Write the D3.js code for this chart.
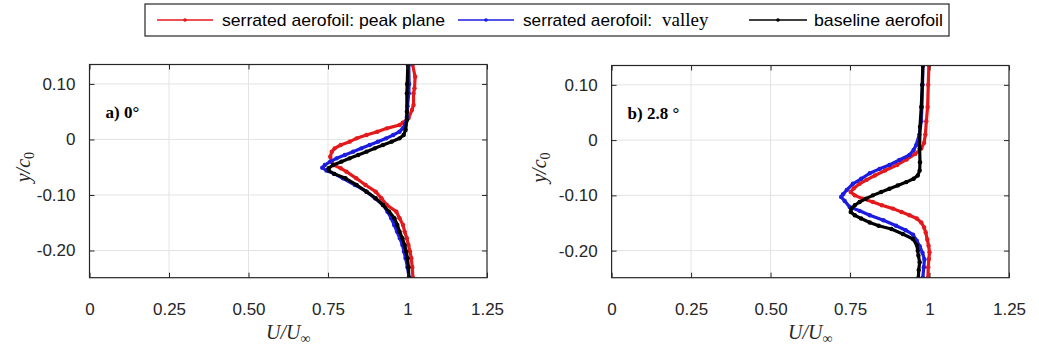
<!DOCTYPE html>
<html><head><meta charset="utf-8">
<script src="https://cdn.jsdelivr.net/npm/d3@7"></script>
<style>body{margin:0;background:#fff} svg{display:block}</style>
</head><body><svg id="c" width="1039" height="350"></svg>
<script>
const xTicks=[0,0.25,0.5,0.75,1,1.25];
const xTickLabels=["0","0.25","0.50","0.75","1","1.25"];
const yTicks=[-0.2,-0.1,0,0.1];
const yTickLabels=["-0.20","-0.10","0","0.10"];
const seriesNames=["serrated aerofoil: peak plane","serrated aerofoil:","baseline aerofoil"];
const seriesColors=["#e3191c","#1c1ce0","#000000"];
const panelLabels=["a) 0°","b) 2.8 °"];

// panel a) 0° : [y/c0, U/Uinf]
const aPeak=[[0.135,1.016],[0.113,1.024],[0.092,1.022],[0.083,1.019],[0.062,1.019],[0.053,1.014],[0.038,1.003],[0.030,0.985],[0.026,0.975],[0.020,0.935],[0.014,0.905],[0.008,0.871],[0.002,0.840],[-0.004,0.818],[-0.010,0.790],[-0.016,0.771],[-0.022,0.762],[-0.031,0.757],[-0.040,0.762],[-0.046,0.768],[-0.052,0.790],[-0.058,0.808],[-0.070,0.839],[-0.082,0.868],[-0.094,0.900],[-0.106,0.918],[-0.118,0.935],[-0.130,0.965],[-0.142,0.975],[-0.154,0.986],[-0.166,0.991],[-0.178,0.998],[-0.190,1.003],[-0.202,1.008],[-0.214,1.012],[-0.230,1.015],[-0.249,1.017]];
const aValley=[[0.135,1.004],[0.100,1.005],[0.083,1.004],[0.060,1.000],[0.040,0.998],[0.029,0.994],[0.020,0.985],[0.014,0.975],[0.008,0.955],[0.002,0.933],[-0.004,0.907],[-0.010,0.881],[-0.016,0.855],[-0.022,0.829],[-0.028,0.803],[-0.034,0.777],[-0.040,0.757],[-0.046,0.740],[-0.051,0.732],[-0.056,0.745],[-0.062,0.770],[-0.070,0.797],[-0.082,0.835],[-0.094,0.871],[-0.106,0.898],[-0.118,0.923],[-0.130,0.937],[-0.142,0.949],[-0.154,0.958],[-0.166,0.967],[-0.178,0.976],[-0.190,0.984],[-0.202,0.989],[-0.214,0.994],[-0.230,1.000],[-0.249,1.005]];
const aBase=[[0.135,1.001],[0.100,0.999],[0.083,0.998],[0.050,0.998],[0.035,0.998],[0.017,0.994],[0.008,0.988],[0.002,0.975],[-0.004,0.950],[-0.010,0.923],[-0.016,0.897],[-0.022,0.871],[-0.028,0.845],[-0.034,0.818],[-0.040,0.792],[-0.046,0.766],[-0.052,0.752],[-0.056,0.752],[-0.062,0.770],[-0.070,0.805],[-0.082,0.840],[-0.094,0.871],[-0.106,0.900],[-0.118,0.923],[-0.130,0.942],[-0.142,0.959],[-0.154,0.968],[-0.166,0.975],[-0.178,0.984],[-0.190,0.991],[-0.202,0.996],[-0.214,1.000],[-0.230,1.003],[-0.249,1.004]];

// panel b) 2.8° : [y/c0, U/Uinf]
const bPeak=[[0.135,0.998],[0.100,0.996],[0.060,0.994],[0.034,0.990],[0.010,0.987],[-0.005,0.983],[-0.015,0.974],[-0.025,0.955],[-0.035,0.928],[-0.045,0.898],[-0.055,0.860],[-0.064,0.828],[-0.072,0.802],[-0.079,0.780],[-0.087,0.762],[-0.094,0.752],[-0.100,0.765],[-0.106,0.790],[-0.112,0.822],[-0.118,0.850],[-0.124,0.885],[-0.130,0.912],[-0.136,0.937],[-0.142,0.960],[-0.149,0.974],[-0.158,0.983],[-0.167,0.988],[-0.180,0.993],[-0.191,0.997],[-0.203,1.000],[-0.215,0.998],[-0.230,0.996],[-0.249,0.995]];
const bValley=[[0.135,0.979],[0.100,0.978],[0.060,0.976],[0.034,0.974],[0.010,0.968],[-0.009,0.958],[-0.018,0.950],[-0.027,0.937],[-0.036,0.905],[-0.045,0.874],[-0.052,0.843],[-0.060,0.812],[-0.070,0.785],[-0.079,0.759],[-0.090,0.740],[-0.098,0.728],[-0.103,0.722],[-0.110,0.733],[-0.121,0.749],[-0.128,0.780],[-0.136,0.812],[-0.145,0.855],[-0.155,0.895],[-0.163,0.925],[-0.171,0.948],[-0.182,0.960],[-0.192,0.969],[-0.204,0.978],[-0.216,0.984],[-0.230,0.982],[-0.249,0.979]];
const bBase=[[0.135,0.979],[0.100,0.977],[0.060,0.974],[0.024,0.970],[-0.015,0.969],[-0.040,0.970],[-0.055,0.969],[-0.064,0.963],[-0.070,0.950],[-0.076,0.927],[-0.082,0.900],[-0.088,0.874],[-0.094,0.848],[-0.100,0.822],[-0.106,0.800],[-0.112,0.780],[-0.118,0.765],[-0.124,0.754],[-0.130,0.752],[-0.136,0.765],[-0.142,0.785],[-0.149,0.812],[-0.155,0.840],[-0.161,0.880],[-0.170,0.916],[-0.179,0.948],[-0.190,0.960],[-0.200,0.963],[-0.209,0.965],[-0.221,0.969],[-0.235,0.966],[-0.249,0.965]];

const svg=d3.select("#c");
const axisCol="#262626", gridCol="#e3e3e3";
const yDomain=[-0.249,0.135], xDomain=[0,1.25];

const panels=[
  {left:89.5,right:487,top:64.5,bottom:277.7,label:panelLabels[0],series:[aPeak,aValley,aBase],ylabX:30},
  {left:611.6,right:1009,top:65.5,bottom:277.7,label:panelLabels[1],series:[bPeak,bValley,bBase],ylabX:546}
];

panels.forEach(p=>{
  const x=d3.scaleLinear().domain(xDomain).range([p.left,p.right]);
  const y=d3.scaleLinear().domain(yDomain).range([p.bottom,p.top]);
  const g=svg.append("g");
  g.append("rect").attr("x",p.left).attr("y",p.top).attr("width",p.right-p.left).attr("height",p.bottom-p.top).attr("fill","#fff");
  // grid
  g.selectAll(".gx").data(xTicks.slice(1,-1)).join("line").attr("x1",d=>x(d)).attr("x2",d=>x(d)).attr("y1",p.top).attr("y2",p.bottom).attr("stroke",gridCol).attr("stroke-width",1);
  g.selectAll(".gy").data(yTicks).join("line").attr("class","gy").attr("y1",d=>y(d)).attr("y2",d=>y(d)).attr("x1",p.left).attr("x2",p.right).attr("stroke",gridCol).attr("stroke-width",1);
  // clip
  const cid="clip"+Math.round(p.left);
  svg.append("clipPath").attr("id",cid).append("rect").attr("x",p.left).attr("y",p.top).attr("width",p.right-p.left).attr("height",p.bottom-p.top);
  const line=d3.line().x(d=>x(d[1])).y(d=>y(d[0])).curve(d3.curveLinear);
  const cg=g.append("g").attr("clip-path",`url(#${cid})`);
  p.series.forEach((s,i)=>{
    cg.append("path").datum(s).attr("d",line).attr("fill","none").attr("stroke",seriesColors[i]).attr("stroke-width",3.2).attr("stroke-linejoin","round");
    cg.selectAll(null).data(s).join("circle").attr("cx",d=>x(d[1])).attr("cy",d=>y(d[0])).attr("r",2.2).attr("fill",seriesColors[i]);
  });
  // axes (MATLAB box with inward ticks)
  const ax=d3.axisBottom(x).tickValues(xTicks).tickSizeInner(-5).tickSizeOuter(0).tickFormat((d,i)=>xTickLabels[i]).tickPadding(25);
  const gx=g.append("g").attr("transform",`translate(0,${p.bottom})`).call(ax);
  gx.select(".domain").remove();
  gx.selectAll("line").attr("stroke",axisCol);
  gx.selectAll("text").attr("font-family","Liberation Sans, Arial, sans-serif").attr("font-size",17).attr("fill","#262626");
  const axT=d3.axisTop(x).tickValues(xTicks).tickSizeInner(-5).tickSizeOuter(0).tickFormat("");
  const gxt=g.append("g").attr("transform",`translate(0,${p.top})`).call(axT);
  gxt.select(".domain").remove(); gxt.selectAll("line").attr("stroke",axisCol);
  const ay=d3.axisLeft(y).tickValues(yTicks).tickSizeInner(-5).tickSizeOuter(0).tickFormat((d,i)=>yTickLabels[i]).tickPadding(14);
  const gy=g.append("g").attr("transform",`translate(${p.left},0)`).call(ay);
  gy.select(".domain").remove();
  gy.selectAll("line").attr("stroke",axisCol);
  gy.selectAll("text").attr("font-family","Liberation Sans, Arial, sans-serif").attr("font-size",17).attr("fill","#262626");
  const ayR=d3.axisRight(y).tickValues(yTicks).tickSizeInner(-5).tickSizeOuter(0).tickFormat("");
  const gyr=g.append("g").attr("transform",`translate(${p.right},0)`).call(ayR);
  gyr.select(".domain").remove(); gyr.selectAll("line").attr("stroke",axisCol);
  g.append("rect").attr("x",p.left).attr("y",p.top).attr("width",p.right-p.left).attr("height",p.bottom-p.top).attr("fill","none").attr("stroke",axisCol).attr("stroke-width",1.2);
  // panel label
  g.append("text").attr("x",p.left+16).attr("y",p.top+53).attr("font-family","Liberation Serif, Times New Roman, serif").attr("font-weight","bold").attr("font-size",17).attr("fill","#000").text(p.label);
  // x label
  const xl=g.append("text").attr("x",(p.left+p.right)/2).attr("y",339).attr("text-anchor","middle").attr("font-family","Liberation Serif, Times New Roman, serif").attr("font-size",20).attr("fill","#262626");
  xl.append("tspan").attr("font-style","italic").text("U/U");
  xl.append("tspan").attr("font-size",14).attr("dy",4).text("∞");
  // y label
  const yl=g.append("text").attr("transform",`translate(${p.ylabX},${(p.top+p.bottom)/2-4}) rotate(-90)`).attr("text-anchor","middle").attr("font-family","Liberation Serif, Times New Roman, serif").attr("font-size",20).attr("fill","#262626");
  yl.append("tspan").attr("font-style","italic").text("y/c");
  yl.append("tspan").attr("font-size",14).attr("dy",4).text("0");
});

// legend
const lg=svg.append("g");
lg.append("rect").attr("x",145).attr("y",4).attr("width",804).attr("height",32).attr("fill","#fff").attr("stroke",axisCol).attr("stroke-width",1.2);
const legItems=[
  {x1:157,x2:213,tx:222,tw:223},
  {x1:458,x2:514,tx:523,tw:129},
  {x1:749,x2:807,tx:814,tw:129}
];
legItems.forEach((it,i)=>{
  lg.append("line").attr("x1",it.x1).attr("x2",it.x2).attr("y1",20).attr("y2",20).attr("stroke",seriesColors[i]).attr("stroke-width",1.3);
  lg.append("circle").attr("cx",(it.x1+it.x2)/2).attr("cy",20).attr("r",1.8).attr("fill",seriesColors[i]);
  lg.append("text").attr("x",it.tx).attr("y",26).attr("font-family","Liberation Sans, Arial, sans-serif").attr("font-size",17).attr("fill","#000").attr("textLength",it.tw).attr("lengthAdjust","spacingAndGlyphs").text(seriesNames[i]);
});
lg.append("text").attr("x",662).attr("y",26).attr("font-family","Liberation Serif, Times New Roman, serif").attr("font-size",19).attr("fill","#000").text("valley");
</script></body></html>
